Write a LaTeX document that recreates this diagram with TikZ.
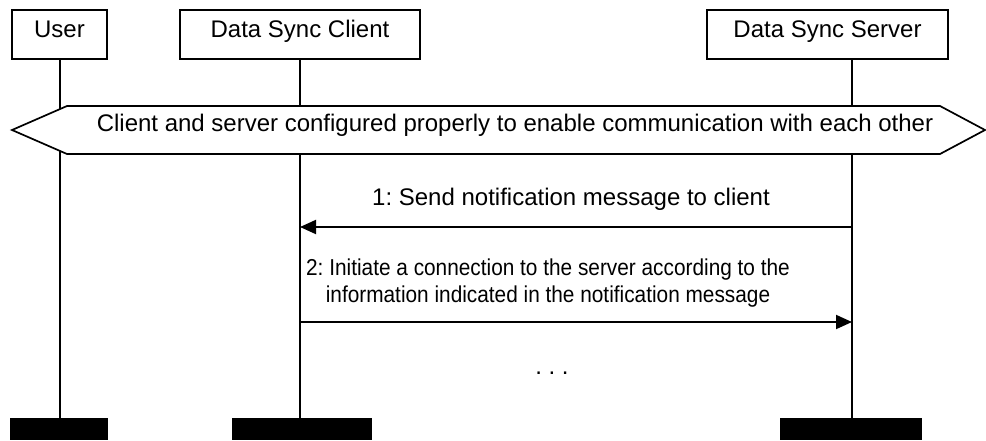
\documentclass[tikz,border=0pt]{standalone}
\usepackage{fontspec}
\setmainfont{Liberation Sans}
\usetikzlibrary{arrows.meta}
\begin{document}
\begin{tikzpicture}[x=1pt,y=-1pt,
  lbl/.style={font=\fontsize{24}{27}\selectfont\frenchspacing},
  narrow/.style={font=\fontsize{23}{27}\selectfont\frenchspacing,xscale=0.905,transform shape},
  actor/.style={draw,line width=1.7pt,fill=white,minimum height=49pt,inner sep=0pt,
                text height=17pt,text depth=12pt,lbl},
  endbar/.style={fill=black,draw=none,minimum height=22pt,inner sep=0pt,anchor=north},
  life/.style={line width=1.7pt},
  msg/.style={line width=1.9pt,-{Triangle[length=16pt,width=14pt]}}]
\useasboundingbox (0,0) rectangle (986,440);

% participants
\node[actor,minimum width=95pt]  (user)   at (59.5,34.5)  {User};
\node[actor,minimum width=240pt] (client) at (300,34.5)   {Data Sync Client};
\node[actor,minimum width=241pt] (server) at (827.5,34.5) {Data Sync Server};

% end-of-life bars
\node[endbar,minimum width=98pt]  (ubar) at (59,418)  {};
\node[endbar,minimum width=140pt] (cbar) at (302,418) {};
\node[endbar,minimum width=142pt] (sbar) at (851,418) {};

% lifelines
\coordinate (ul) at (60,418);
\coordinate (cl) at (300,418);
\coordinate (sl) at (852,418);
\draw[life] (user.south -| ul) -- (ul);
\draw[life] (client.south -| cl) -- (cl);
\draw[life] (server.south -| sl) -- (sl);

% precondition banner
\draw[line width=1.7pt,fill=white]
  (12,130) -- (67,106) -- (940,106) -- (985,130) -- (940,154) -- (67,154) -- cycle;
\node[lbl,anchor=base,inner sep=0pt] (cfg) at (515,131)
  {Client and server configured properly to enable communication with each other};

% messages
\coordinate (s1) at (852,227);
\coordinate (c1) at (300,227);
\draw[msg] (s1) -- (c1);
\node[lbl,anchor=base,inner sep=0pt] (m1) at (571,205) {1: Send notification message to client};

\coordinate (c2) at (300,322);
\coordinate (s2) at (852,322);
\draw[msg] (c2) -- (s2);
\node[narrow,anchor=base,inner sep=0pt] (m2a) at (548,275) {2: Initiate a connection to the server according to the};
\node[narrow,anchor=base,inner sep=0pt] (m2b) at (548,302) {information indicated in the notification message};

% continuation
\node[lbl,anchor=base,inner sep=0pt] (dots) at (552,374) {. . .};
\end{tikzpicture}
\end{document}
